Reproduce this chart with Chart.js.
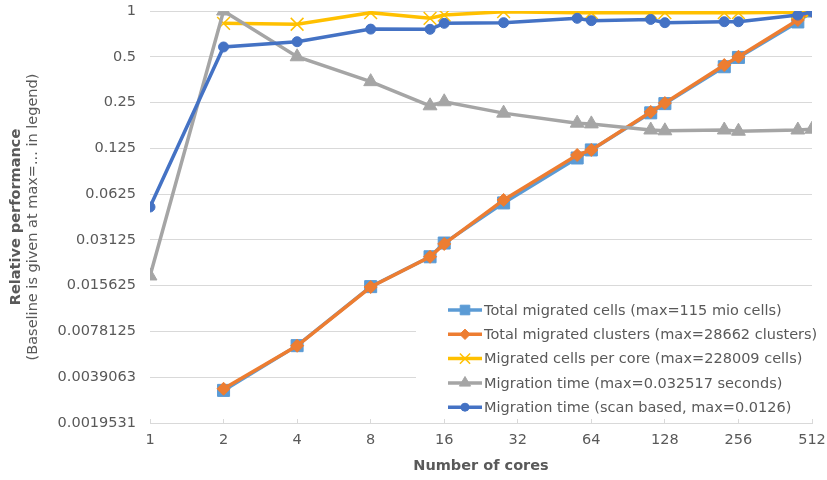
<!DOCTYPE html>
<html lang="en">
<head>
    <meta charset="UTF-8">
    <title>Relative performance vs number of cores</title>
    <script src="https://cdn.jsdelivr.net/npm/chart.js"></script>
    <style>
        html, body { margin: 0; padding: 0; background: #fff; }
        #wrap { width: 827px; height: 480px; position: relative; }
    </style>
</head>
<body>
    <div id="wrap"><canvas id="perfChart"></canvas></div>

    <script>
        // data
        const cores = [1, 2, 4, 8, 14, 16, 28, 56, 64, 112, 128, 224, 256, 448, 512];
        const totalCells    = [null, 0.0032, 0.0063, 0.0154, 0.0242, 0.0298, 0.0547, 0.108, 0.122, 0.214, 0.246, 0.43, 0.495, 0.847, 1];
        const totalClusters = [null, 0.00328, 0.00629, 0.0153, 0.0242, 0.0294, 0.0572, 0.113, 0.122, 0.217, 0.248, 0.441, 0.5, 0.873, 1];
        const cellsPerCore  = [null, 0.83, 0.818, 0.975, 0.895, 0.94, 0.99, 0.975, 0.975, 0.975, 0.975, 0.975, 0.975, 0.98, 1];
        const migTime       = [0.0181, 1, 0.5, 0.343, 0.238, 0.253, 0.213, 0.183, 0.181, 0.165, 0.163, 0.165, 0.162, 0.165, 0.167];
        const migTimeScan   = [0.0514, 0.58, 0.628, 0.76, 0.758, 0.83, 0.838, 0.895, 0.864, 0.88, 0.838, 0.85, 0.85, 0.94, 0.99];

        const seriesNames = [
            'Total migrated cells (max=115 mio cells)',
            'Total migrated clusters (max=28662 clusters)',
            'Migrated cells per core (max=228009 cells)',
            'Migration time (max=0.032517 seconds)',
            'Migration time (scan based, max=0.0126)'
        ];

        const xTickValues = [1, 2, 4, 8, 16, 32, 64, 128, 256, 512];
        const xTickLabels = ['1', '2', '4', '8', '16', '32', '64', '128', '256', '512'];
        const yTickValues = [0.001953125, 0.00390625, 0.0078125, 0.015625, 0.03125, 0.0625, 0.125, 0.25, 0.5, 1];
        const yTickLabels = ['0.0019531', '0.0039063', '0.0078125', '0.015625', '0.03125', '0.0625', '0.125', '0.25', '0.5', '1'];

        const textColor = '#595959';
        const gridColor = '#d9d9d9';
        const fontFamily = '"DejaVu Sans", "Liberation Sans", sans-serif';
        const fontSize = 14.5;

        function toPoints(values) {
            const pts = [];
            values.forEach((v, i) => {
                if (v !== null) pts.push({ x: cores[i], y: v });
            });
            return pts;
        }

        function makeSeries(label, values, color, style, radius, order, markerBorder) {
            return {
                label: label,
                data: toPoints(values),
                borderColor: color,
                backgroundColor: color,
                borderWidth: 3.5,
                pointStyle: style,
                pointRadius: radius,
                pointHoverRadius: radius,
                pointBackgroundColor: color,
                pointBorderColor: color,
                pointBorderWidth: markerBorder,
                tension: 0,
                order: order
            };
        }

        const datasets = [
            makeSeries(seriesNames[0], totalCells, '#5b9bd5', 'rect', 8.5, 5, 1),
            makeSeries(seriesNames[1], totalClusters, '#ed7d31', 'rectRot', 6.5, 4, 1),
            makeSeries(seriesNames[2], cellsPerCore, '#ffc000', 'crossRot', 9, 3, 1.5),
            makeSeries(seriesNames[3], migTime, '#a5a5a5', 'triangle', 8, 2, 1),
            makeSeries(seriesNames[4], migTimeScan, '#4472c4', 'circle', 5, 1, 1)
        ];

        // axis titles + in-plot legend, drawn by hand like the original
        const decorPlugin = {
            id: 'decor',
            afterDatasetsDraw(chart) {
                const ctx = chart.ctx;
                const area = chart.chartArea;
                ctx.save();

                // legend box (white, hides the gridlines behind it)
                const boxLeft = area.left + 266;
                const boxTop = area.top + 283;
                ctx.fillStyle = '#fff';
                ctx.fillRect(boxLeft, boxTop, chart.width - boxLeft - 2, area.bottom - boxTop - 4);

                const lineX0 = area.left + 298;
                const lineX1 = area.left + 332;
                ctx.font = fontSize + 'px ' + fontFamily;
                ctx.textBaseline = 'middle';
                ctx.textAlign = 'left';
                chart.data.datasets.forEach((ds, i) => {
                    const y = area.top + 299 + i * 24.3;
                    ctx.strokeStyle = ds.borderColor;
                    ctx.lineWidth = 3.5;
                    ctx.beginPath();
                    ctx.moveTo(lineX0, y);
                    ctx.lineTo(lineX1, y);
                    ctx.stroke();
                    ctx.fillStyle = ds.pointBackgroundColor;
                    ctx.strokeStyle = ds.pointBorderColor;
                    ctx.lineWidth = ds.pointBorderWidth;
                    Chart.helpers.drawPoint(ctx, {
                        pointStyle: ds.pointStyle,
                        radius: ds.pointRadius * 0.8,
                        rotation: 0,
                        borderWidth: ds.pointBorderWidth
                    }, (lineX0 + lineX1) / 2, y);
                    ctx.fillStyle = textColor;
                    ctx.fillText(ds.label, lineX1 + 2, y + 1);
                });

                // x title
                ctx.fillStyle = textColor;
                ctx.textAlign = 'center';
                ctx.font = 'bold ' + fontSize + 'px ' + fontFamily;
                ctx.fillText('Number of cores', (area.left + area.right) / 2, 466);

                // y title, two lines
                const midY = (area.top + area.bottom) / 2;
                ctx.translate(16, midY);
                ctx.rotate(-Math.PI / 2);
                ctx.fillText('Relative performance', 0, 0);
                ctx.font = fontSize + 'px ' + fontFamily;
                ctx.fillText('(Baseline is given at max=... in legend)', 0, 17);
                ctx.restore();
            }
        };

        const ctx = document.getElementById('perfChart').getContext('2d');
        const chart = new Chart(ctx, {
            type: 'line',
            data: { datasets: datasets },
            options: {
                responsive: true,
                maintainAspectRatio: false,
                animation: false,
                layout: { padding: { top: 11, right: 15, bottom: 0, left: 0 } },
                plugins: {
                    legend: { display: false },
                    tooltip: { enabled: false }
                },
                scales: {
                    x: {
                        type: 'logarithmic',
                        min: 1,
                        max: 512,
                        afterBuildTicks: scale => {
                            scale.ticks = xTickValues.map(v => ({ value: v }));
                        },
                        afterFit: scale => {
                            scale.height = 57;
                            scale.paddingLeft = 0;
                            scale.paddingRight = 0;
                        },
                        ticks: {
                            autoSkip: false,
                            maxRotation: 0,
                            padding: 13,
                            color: textColor,
                            font: { family: fontFamily, size: fontSize },
                            callback: (value) => {
                                const i = xTickValues.indexOf(value);
                                return i >= 0 ? xTickLabels[i] : '';
                            }
                        },
                        grid: {
                            drawOnChartArea: false,
                            drawTicks: true,
                            tickLength: -4,
                            color: gridColor
                        },
                        border: { display: true, color: gridColor, width: 1 }
                    },
                    y: {
                        type: 'logarithmic',
                        min: 0.001953125,
                        max: 1,
                        afterBuildTicks: scale => {
                            scale.ticks = yTickValues.map(v => ({ value: v }));
                        },
                        afterFit: scale => {
                            scale.width = 150;
                            scale.paddingTop = 0;
                            scale.paddingBottom = 0;
                        },
                        ticks: {
                            autoSkip: false,
                            padding: 14,
                            color: textColor,
                            font: { family: fontFamily, size: fontSize },
                            callback: (value) => {
                                const i = yTickValues.indexOf(value);
                                return i >= 0 ? yTickLabels[i] : '';
                            }
                        },
                        grid: { color: gridColor, drawTicks: false },
                        border: { display: false }
                    }
                }
            },
            plugins: [decorPlugin]
        });
    </script>
</body>
</html>
